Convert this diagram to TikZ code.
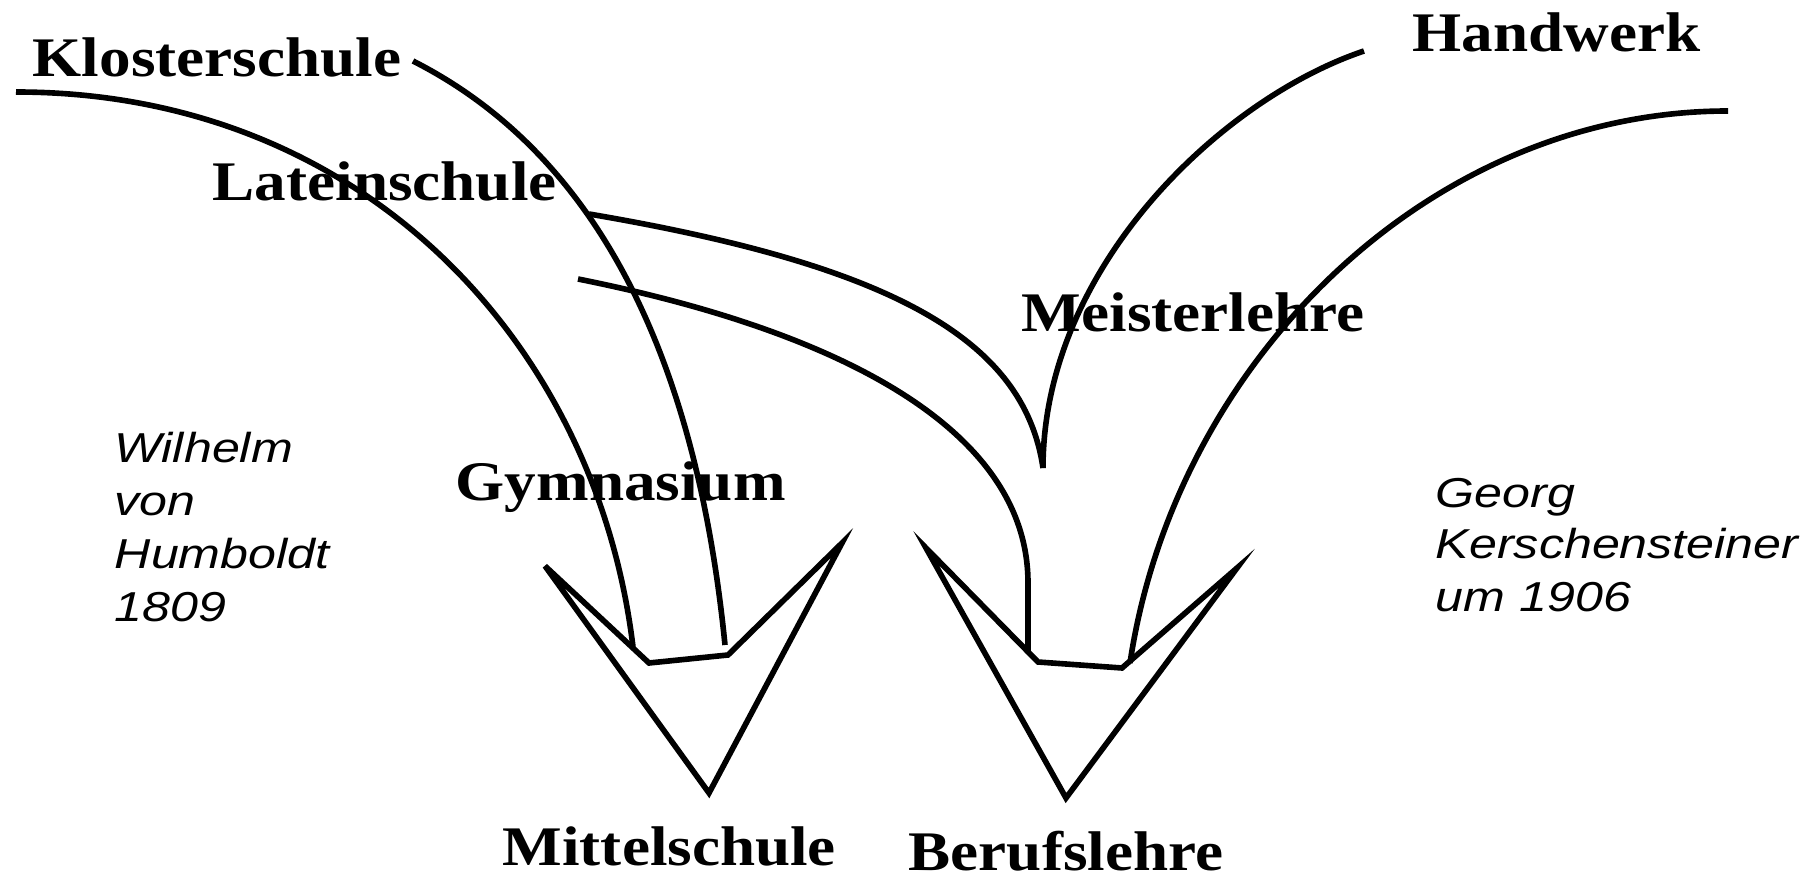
\documentclass[tikz,border=0pt]{standalone}
\usepackage{fontspec}
\setmainfont{Liberation Serif}
\setsansfont{Liberation Sans}
\tikzset{schule/.style={font=\fontsize{15.9}{18}\selectfont\bfseries,
  inner sep=0pt, anchor=base west, xscale=1.13},
 person/.style={font=\fontsize{11.9}{15}\selectfont\sffamily\itshape,
  inner sep=0pt, anchor=base west, xscale=1.2},
 strang/.style={line width=1.6pt},
 pfeil/.style={line width=1.6pt, line join=miter},
 }

\begin{document}
\begin{tikzpicture}[x=0.1mm, y=-0.1mm]
        \useasboundingbox (0,0) rectangle (1819,877);
        \node[schule] (kloster) at (32,77) {Klosterschule};
        \node[schule] (latein) at (212,201) {Lateinschule};
        \node[schule] (handwerk) at (1412,52) {Handwerk};
        \node[schule] (meister) at (1021,332) {Meisterlehre};
        \node[schule] (gymnasium) at (455,500) {Gymnasium};
        \node[schule] (mittel) at (502,865) {Mittelschule};
        \node[schule] (beruf) at (908,870) {Berufslehre};
        \node[person] (wilhelm) at (114,462) {Wilhelm};
        \node[person] (von) at (114,515) {von};
        \node[person] (humboldt) at (114,568) {Humboldt};
        \node[person] (jahrA) at (114,621) {1809};
        \node[person] (georg) at (1435,507) {Georg};
        \node[person] (kersch) at (1435,559) {Kerschensteiner};
        \node[person] (jahrB) at (1435,611) {um 1906};
        % Enden der Straenge
        \coordinate (kloA) at (16,92);
        \coordinate (kloB) at (413,61);
        \coordinate (latA) at (589,214);
        \coordinate (latB) at (578,279);
        \coordinate (handA) at (1364,51);
        \coordinate (handB) at (1728,111);
        \coordinate (spitze) at (1043,468);
        \coordinate (gymA) at (633,647);
        \coordinate (gymB) at (725,645);
        \coordinate (berA) at (1028,583);
        \coordinate (berAA) at (1028,653);
        \coordinate (berB) at (1130,663);
        \draw [strang] (kloA) .. controls (366,92) and (597,347) .. (gymA);
        \draw [strang] (kloB) .. controls (618,165) and (700,395) .. (gymB);
        \draw [strang] (latA) .. controls (889,265) and (1024,338) .. (spitze);
        \draw [strang] (handA) .. controls (1221,99) and (1043,268) .. (spitze);
        \draw [strang] (latB) .. controls (848,333) and (1028,433) .. (berA) -- (berAA);
        \draw [strang] (handB) .. controls (1428,111) and (1175,363) .. (berB);
        % Pfeile
        \draw [pfeil] (545,566) -- (649,663) -- (728,655) -- (842,543) -- (709,793) -- cycle;
        \draw [pfeil] (926,548) -- (1038,662) -- (1122,668) -- (1237,568) -- (1066,798) -- cycle;
    \end{tikzpicture}
\end{document}
